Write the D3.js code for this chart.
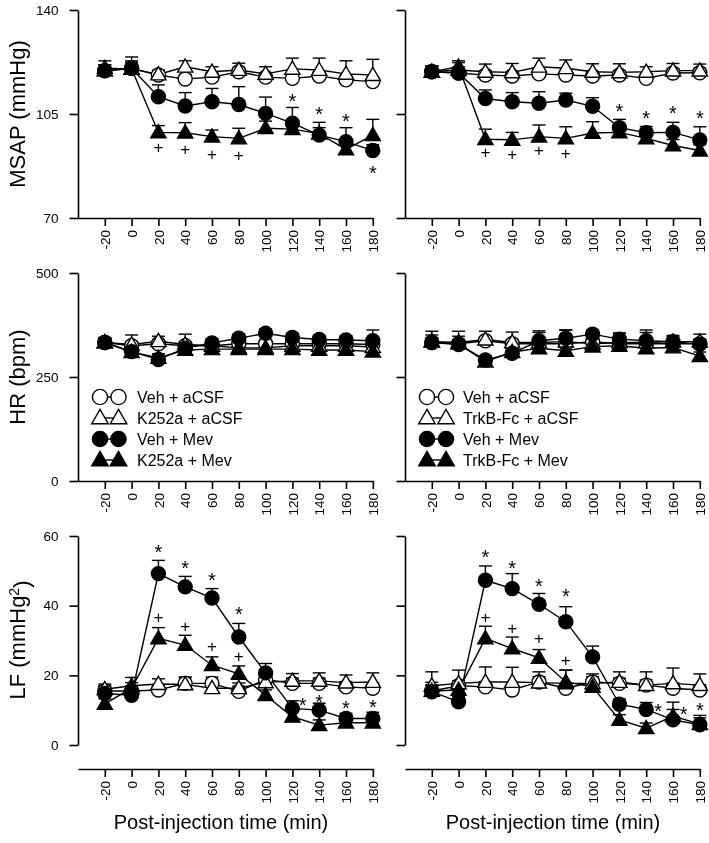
<!DOCTYPE html>
<html><head><meta charset="utf-8">
<script src="https://cdn.jsdelivr.net/npm/d3@7"></script>
<style>
body{margin:0;background:#fff}
svg{display:block;filter:grayscale(1)}
text{font-family:"Liberation Sans",Arial,Helvetica,sans-serif;fill:#000}
</style>
</head><body>
<svg id="chart" width="709" height="843"></svg>
<script>
// ---------------- DATA ----------------
const times = [-20, 0, 20, 40, 60, 80, 100, 120, 140, 160, 180];
const xTickLabels = ["-20", "0", "20", "40", "60", "80", "100", "120", "140", "160", "180"];
const msapTicks = [70, 105, 140];
const hrTicks = [0, 250, 500];
const lfTicks = [0, 20, 40, 60];
const legendLeft = ["Veh + aCSF", "K252a + aCSF", "Veh + Mev", "K252a + Mev"];
const legendRight = ["Veh + aCSF", "TrkB-Fc + aCSF", "Veh + Mev", "TrkB-Fc + Mev"];
const yTitles = ["MSAP (mmHg)", "HR (bpm)", "LF (mmHg"];
const xTitle = "Post-injection time (min)";

// MSAP, left (K252a)
const msapL_vehAcsf = [119.5, 120.4, 118.1, 116.8, 117.4, 119.2, 117.4, 117.0, 117.8, 116.5, 115.9];
const msapL_vehAcsfErr = [1.5, 2.0, 1.5, 1.5, 1.5, 1.5, 1.5, 1.5, 1.5, 1.5, 1.5];
const msapL_drugAcsf = [120.4, 120.2, 118.3, 120.9, 119.2, 119.8, 118.5, 120.2, 119.8, 118.5, 118.1];
const msapL_drugAcsfErr = [2.5, 4.0, 1.5, 2.0, 1.7, 2.3, 2.4, 3.6, 4.0, 4.4, 5.3];
const msapL_vehMev = [119.6, 120.4, 110.8, 107.7, 109.1, 108.2, 105.2, 101.9, 97.9, 95.7, 92.7];
const msapL_vehMevErr = [2.0, 2.5, 4.0, 4.5, 4.5, 6.0, 5.5, 5.3, 4.3, 4.7, 2.0];
const msapL_drugMev = [119.6, 120.2, 98.8, 98.7, 97.4, 96.8, 100.2, 99.9, 98.4, 93.1, 97.9];
const msapL_drugMevErr = [2.0, 2.0, 2.3, 3.4, 2.2, 3.4, 2.4, 2.0, 2.0, 2.0, 5.3];

// MSAP, right (TrkB-Fc)
const msapR_vehAcsf = [119.2, 118.8, 118.1, 117.8, 118.5, 118.1, 117.8, 118.1, 117.0, 118.8, 118.9];
const msapR_vehAcsfErr = [1.5, 1.5, 1.5, 1.5, 1.5, 1.5, 1.5, 1.5, 1.5, 1.5, 1.5];
const msapR_drugAcsf = [119.2, 119.8, 119.2, 119.0, 120.9, 120.4, 119.2, 119.0, 119.2, 119.6, 119.6];
const msapR_drugAcsfErr = [2.0, 2.5, 2.6, 3.0, 2.9, 2.8, 2.7, 2.9, 1.7, 2.4, 2.2];
const msapR_vehMev = [119.2, 118.8, 110.2, 109.1, 108.6, 109.7, 107.6, 100.4, 98.7, 98.8, 96.3];
const msapR_vehMevErr = [2.0, 2.0, 2.9, 3.1, 3.9, 2.3, 2.9, 2.8, 2.1, 3.4, 4.4];
const msapR_drugMev = [119.2, 120.9, 96.5, 96.3, 97.4, 96.8, 98.6, 98.8, 96.8, 94.4, 92.7];
const msapR_drugMevErr = [2.0, 2.0, 3.4, 2.5, 3.9, 3.9, 3.8, 2.0, 2.0, 2.0, 2.0];

// HR, left
const hrL_vehAcsf = [333, 325, 330, 325, 325, 330, 330, 330, 330, 330, 328];
const hrL_vehAcsfErr = [10, 10, 10, 10, 10, 10, 10, 10, 10, 10, 10];
const hrL_drugAcsf = [333, 328, 336, 328, 325, 320, 320, 325, 325, 325, 322];
const hrL_drugAcsfErr = [10, 23, 12, 25, 10, 10, 10, 10, 10, 10, 10];
const hrL_vehMev = [333, 311, 292, 319, 332, 343, 355, 345, 340, 339, 337];
const hrL_vehMevErr = [12, 10, 10, 10, 10, 10, 10, 10, 10, 10, 26];
const hrL_drugMev = [333, 310, 296, 315, 317, 317, 317, 317, 315, 315, 311];
const hrL_drugMevErr = [10, 10, 10, 10, 10, 10, 10, 10, 10, 10, 10];

// HR, right
const hrR_vehAcsf = [333, 330, 337, 330, 330, 330, 335, 330, 330, 330, 330];
const hrR_vehAcsfErr = [10, 10, 10, 10, 10, 10, 10, 10, 10, 10, 10];
const hrR_drugAcsf = [335, 333, 340, 333, 333, 335, 330, 333, 333, 335, 335];
const hrR_drugAcsfErr = [25, 27, 20, 25, 28, 28, 20, 22, 30, 15, 18];
const hrR_vehMev = [333, 328, 291, 307, 337, 343, 353, 341, 337, 335, 329];
const hrR_vehMevErr = [18, 20, 10, 10, 20, 20, 10, 15, 20, 12, 12];
const hrR_drugMev = [335, 330, 287, 310, 319, 313, 323, 325, 319, 321, 300];
const hrR_drugMevErr = [10, 10, 10, 10, 10, 10, 10, 10, 10, 10, 10];

// LF, left
const lfL_vehAcsf = [15.5, 15.5, 15.8, 17.7, 17.7, 15.4, 18.8, 17.7, 17.7, 16.7, 16.3];
const lfL_vehAcsfErr = [1.5, 1.5, 1.5, 1.8, 1.8, 1.5, 1.5, 1.5, 1.5, 1.5, 1.5];
const lfL_drugAcsf = [16.0, 17.0, 17.5, 17.4, 16.3, 16.3, 18.0, 18.4, 18.4, 17.9, 18.1];
const lfL_drugAcsfErr = [1.5, 2.4, 1.5, 2.0, 2.2, 1.5, 1.5, 2.1, 2.3, 2.2, 2.6];
const lfL_vehMev = [14.8, 14.3, 49.2, 45.4, 42.2, 31.0, 20.7, 10.5, 10.0, 7.6, 7.6];
const lfL_vehMevErr = [2.0, 1.5, 3.8, 3.0, 2.7, 3.9, 2.7, 2.2, 2.0, 1.5, 1.8];
const lfL_drugMev = [11.8, 16.3, 30.6, 28.7, 22.9, 20.4, 14.3, 8.1, 5.7, 6.4, 6.4];
const lfL_drugMevErr = [1.5, 1.6, 3.1, 2.8, 2.4, 2.3, 1.5, 1.5, 1.5, 1.5, 1.5];

// LF, right
const lfR_vehAcsf = [15.5, 17.0, 16.7, 15.8, 18.1, 16.3, 18.1, 17.7, 17.2, 16.3, 15.8];
const lfR_vehAcsfErr = [1.5, 1.5, 1.5, 1.5, 1.5, 1.5, 1.5, 1.5, 1.5, 1.5, 1.5];
const lfR_drugAcsf = [17.0, 17.7, 18.1, 18.1, 17.9, 17.7, 17.7, 18.1, 17.2, 17.7, 17.2];
const lfR_drugAcsfErr = [4.0, 3.8, 4.3, 4.2, 3.1, 3.8, 2.7, 2.9, 3.8, 4.4, 3.2];
const lfR_vehMev = [15.3, 12.4, 47.3, 44.9, 40.4, 35.4, 25.3, 11.7, 10.2, 7.2, 5.8];
const lfR_vehMevErr = [2.0, 1.5, 4.1, 4.3, 3.1, 4.3, 3.1, 1.5, 2.0, 3.0, 2.0];
const lfR_drugMev = [15.5, 15.8, 30.6, 27.7, 25.0, 18.1, 16.7, 7.2, 4.8, 8.3, 6.0];
const lfR_drugMevErr = [2.5, 2.0, 3.5, 3.3, 2.4, 3.4, 2.0, 1.5, 1.5, 4.0, 2.5];

// significance marks: [time, value, symbol]
const msapL_marks = [[20, 93.7, "+"], [40, 93.2, "+"], [60, 91.5, "+"], [80, 91.0, "+"],
  [120, 111.1, "*"], [140, 106.6, "*"], [160, 104.3, "*"], [180, 86.9, "*"]];
const msapR_marks = [[20, 92.0, "+"], [40, 91.4, "+"], [60, 92.7, "+"], [80, 91.8, "+"],
  [120, 107.5, "*"], [140, 105.4, "*"], [160, 106.9, "*"], [180, 105.4, "*"]];
const hrL_marks = [];
const hrR_marks = [];
const lfL_marks = [[20, 56.7, "*"], [40, 52.1, "*"], [60, 48.7, "*"], [80, 38.9, "*"],
  [20, 36.6, "+"], [40, 34.1, "+"], [60, 28.4, "+"], [80, 25.5, "+"],
  [127.7, 12.9, "*"], [140, 13.7, "*"], [160, 12.0, "*"], [180, 12.4, "*"]];
const lfR_marks = [[20, 55.4, "*"], [40, 52.1, "*"], [60, 47.0, "*"], [80, 44.2, "*"],
  [20, 36.8, "+"], [40, 33.5, "+"], [60, 30.6, "+"], [80, 24.4, "+"],
  [149, 11.0, "*"], [168, 10.2, "*"], [180, 11.5, "*"]];

// ---------------- LAYOUT / STYLE ----------------
const cols = [{x0: 78, x1: 372.8}, {x0: 405, x1: 699.8}];
const rows = [
  {y0: 218, y1: 10, dom: [70, 140], ticks: msapTicks, axisY: 218, titleY: 114},
  {y0: 481, y1: 273, dom: [0, 500], ticks: hrTicks, axisY: 481, titleY: 377},
  {y0: 745, y1: 536, dom: [0, 60], ticks: lfTicks, axisY: 769, titleY: 640}
];
const seriesStyle = [
  {shape: "circle", filled: false},
  {shape: "triangle", filled: false},
  {shape: "circle", filled: true},
  {shape: "triangle", filled: true}
];
const panelData = [
  [[msapL_vehAcsf, msapL_vehAcsfErr], [msapL_drugAcsf, msapL_drugAcsfErr], [msapL_vehMev, msapL_vehMevErr], [msapL_drugMev, msapL_drugMevErr], msapL_marks],
  [[msapR_vehAcsf, msapR_vehAcsfErr], [msapR_drugAcsf, msapR_drugAcsfErr], [msapR_vehMev, msapR_vehMevErr], [msapR_drugMev, msapR_drugMevErr], msapR_marks],
  [[hrL_vehAcsf, hrL_vehAcsfErr], [hrL_drugAcsf, hrL_drugAcsfErr], [hrL_vehMev, hrL_vehMevErr], [hrL_drugMev, hrL_drugMevErr], hrL_marks],
  [[hrR_vehAcsf, hrR_vehAcsfErr], [hrR_drugAcsf, hrR_drugAcsfErr], [hrR_vehMev, hrR_vehMevErr], [hrR_drugMev, hrR_drugMevErr], hrR_marks],
  [[lfL_vehAcsf, lfL_vehAcsfErr], [lfL_drugAcsf, lfL_drugAcsfErr], [lfL_vehMev, lfL_vehMevErr], [lfL_drugMev, lfL_drugMevErr], lfL_marks],
  [[lfR_vehAcsf, lfR_vehAcsfErr], [lfR_drugAcsf, lfR_drugAcsfErr], [lfR_vehMev, lfR_vehMevErr], [lfR_drugMev, lfR_drugMevErr], lfR_marks]
];

const svg = d3.select("#chart");
svg.append("rect").attr("width", 709).attr("height", 843).attr("fill", "#fff");

const TICKFONT = 13.5;
function symPath(shape, big) {
  const type = shape === "circle" ? d3.symbolCircle : d3.symbolTriangle;
  const size = shape === "circle" ? Math.PI * Math.pow(big ? 7.6 : 7, 2) : (big ? 118 : 100);
  return d3.symbol().type(type).size(size)();
}
function styleAxis(g) {
  g.selectAll("path.domain").attr("stroke", "#000").attr("stroke-width", 1.6);
  g.selectAll(".tick line").attr("stroke", "#000").attr("stroke-width", 1.6);
  g.selectAll(".tick text").style("font-size", TICKFONT + "px").attr("fill", "#000");
}

panelData.forEach((pd, i) => {
  const r = rows[Math.floor(i / 2)], c = cols[i % 2];
  const x = d3.scaleLinear().domain([-40, 180]).range([c.x0, c.x1]);
  const y = d3.scaleLinear().domain(r.dom).range([r.y0, r.y1]);
  const g = svg.append("g");

  // y axis
  const ya = d3.axisLeft(y).tickValues(r.ticks).tickSize(8.5).tickSizeOuter(0).tickPadding(11);
  if (i % 2 === 1) ya.tickFormat("");
  const yg = g.append("g").attr("transform", `translate(${c.x0},0)`).call(ya);
  styleAxis(yg);

  // x axis
  const xa = d3.axisBottom(x).tickValues(times).tickFormat((d, k) => xTickLabels[k])
    .tickSize(8).tickSizeOuter(0).tickPadding(0);
  const xg = g.append("g").attr("transform", `translate(0,${r.axisY})`).call(xa);
  styleAxis(xg);
  xg.selectAll(".tick text")
    .attr("transform", "rotate(-90)")
    .attr("text-anchor", "end")
    .attr("x", -12).attr("y", 0).attr("dy", "0.35em");

  const series = pd.slice(0, 4);
  const plot = g.append("g");
  // error bars
  series.forEach((s, si) => {
    const pts = times.map((t, k) => ({t, v: s[0][k], e: s[1][k]}));
    const eb = plot.append("g").attr("stroke", "#000").attr("stroke-width", 1.4);
    pts.forEach(p => {
      eb.append("line").attr("x1", x(p.t)).attr("x2", x(p.t)).attr("y1", y(p.v)).attr("y2", y(p.v + p.e));
      eb.append("line").attr("x1", x(p.t) - 6.5).attr("x2", x(p.t) + 6.5).attr("y1", y(p.v + p.e)).attr("y2", y(p.v + p.e));
    });
  });
  // lines and markers
  series.forEach((s, si) => {
    const pts = times.map((t, k) => ({t, v: s[0][k]}));
    plot.append("path").datum(pts)
      .attr("d", d3.line().x(d => x(d.t)).y(d => y(d.v)))
      .attr("fill", "none").attr("stroke", "#000").attr("stroke-width", 1.4);
  });
  series.forEach((s, si) => {
    const st = seriesStyle[si];
    const pts = times.map((t, k) => ({t, v: s[0][k]}));
    plot.selectAll(null).data(pts).enter().append("path")
      .attr("d", symPath(st.shape, false))
      .attr("transform", d => `translate(${x(d.t)},${y(d.v) + (st.shape === "triangle" ? 1 : 0)})`)
      .attr("fill", st.filled ? "#000" : "#fff")
      .attr("stroke", "#000").attr("stroke-width", 1.4);
  });
  // significance marks
  const marks = pd[4];
  plot.append("g").selectAll(null).data(marks).enter().append("text")
    .attr("x", d => x(d[0]))
    .attr("y", d => y(d[1]) + (d[2] === "*" ? 0.59 * 20 : 0.34 * 17))
    .attr("text-anchor", "middle")
    .style("font-size", d => d[2] === "*" ? "20px" : "17px")
    .attr("fill", d => d[2] === "*" ? "#222" : "#000")
    .text(d => d[2]);
});

// y titles
rows.forEach((r, ri) => {
  const t = svg.append("text")
    .attr("transform", `translate(25,${r.titleY}) rotate(-90)`)
    .attr("text-anchor", "middle")
    .style("font-size", "22px");
  if (ri < 2) t.text(yTitles[ri]);
  else {
    t.append("tspan").text(yTitles[2]);
    t.append("tspan").text("2").attr("dy", "-0.45em").style("font-size", "14px");
    t.append("tspan").text(")").attr("dy", "0.45em");
  }
});

// x titles
cols.forEach((c, ci) => {
  svg.append("text")
    .attr("x", ci === 0 ? 221 : 553).attr("y", 829)
    .attr("text-anchor", "middle")
    .style("font-size", "20px")
    .text(xTitle);
});

// legends in HR panels
const legendRowsY = [397, 418, 439, 460];
[{labels: legendLeft, m1: 100, m2: 118.5, tx: 137}, {labels: legendRight, m1: 427, m2: 446, tx: 463}].forEach(L => {
  const lg = svg.append("g");
  L.labels.forEach((lab, k) => {
    const st = seriesStyle[k];
    const yy = legendRowsY[k];
    lg.append("line").attr("x1", L.m1).attr("x2", L.m2).attr("y1", yy).attr("y2", yy)
      .attr("stroke", "#000").attr("stroke-width", 1.4);
    [L.m1, L.m2].forEach(mx => {
      lg.append("path").attr("d", symPath(st.shape, true))
        .attr("transform", `translate(${mx},${yy + (st.shape === "triangle" ? 1 : 0)})`)
        .attr("fill", st.filled ? "#000" : "#fff")
        .attr("stroke", "#000").attr("stroke-width", 1.4);
    });
    lg.append("text").attr("x", L.tx).attr("y", yy).attr("dy", "0.36em")
      .style("font-size", "16px").text(lab);
  });
});
</script>
</body></html>
